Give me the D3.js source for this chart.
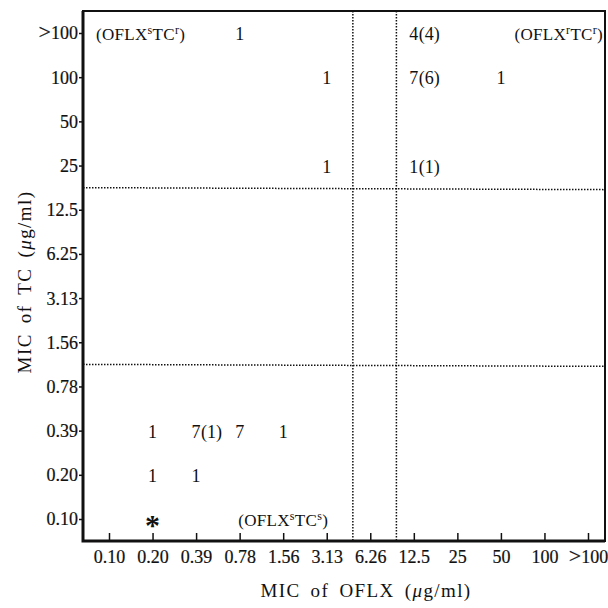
<!DOCTYPE html>
<html>
<head>
<meta charset="utf-8">
<script src="https://cdn.jsdelivr.net/npm/d3@7"></script>
<style>
  body { margin: 0; background: #fff; }
  svg text { font-family: "Liberation Serif", "DejaVu Serif", serif !important; }
</style>
</head>
<body>
<div id="chart"></div>
<script>
// categories (MIC steps)
const oflxSteps = ["0.10", "0.20", "0.39", "0.78", "1.56", "3.13", "6.26", "12.5", "25", "50", "100", ">100"];
const tcSteps = [">100", "100", "50", "25", "12.5", "6.25", "3.13", "1.56", "0.78", "0.39", "0.20", "0.10"];

// cell counts: OFLX MIC, TC MIC, number of strains, number in brackets
const cellOflx = ["0.78", "12.5", "3.13", "12.5", "50", "3.13", "12.5", "0.20", "0.39", "0.78", "1.56", "0.20", "0.39"];
const cellTc = [">100", ">100", "100", "100", "100", "25", "25", "0.39", "0.39", "0.39", "0.39", "0.20", "0.20"];
const cellCount = ["1", "4", "1", "7", "1", "1", "1", "1", "7", "7", "1", "1", "1"];
const cellParen = [null, "(4)", null, "(6)", null, null, "(1)", null, "(1)", null, null, null, null];

// breakpoints drawn as dotted lines: [lower step, upper step, fraction between]
const oflxBreaks = [["3.13", "6.26", 0.6], ["6.26", "12.5", 0.6]];
const tcBreaks = [["25", "12.5", 0.5], ["1.56", "0.78", 0.5]];

// quadrant labels
const quadLabels = [
  { base: "(OFLX", sup1: "s", mid: "TC", sup2: "r", tc: ">100", pos: "left" },
  { base: "(OFLX", sup1: "r", mid: "TC", sup2: "r", tc: ">100", pos: "right" },
  { base: "(OFLX", sup1: "s", mid: "TC", sup2: "s", tc: "0.10", oflx: "1.56", pos: "center" }
];

const W = 608, H = 608;
const frame = { left: 83, right: 605, top: 11, bottom: 541 };
const FONT = "'Liberation Serif', 'DejaVu Serif', serif";

const svg = d3.select("#chart").append("svg")
  .attr("width", W)
  .attr("height", H)
  .attr("font-family", FONT);

const x = d3.scalePoint()
  .domain(oflxSteps)
  .range([frame.left + 26, frame.right - 17]);

const y = d3.scalePoint()
  .domain(tcSteps)
  .range([frame.top + 22, frame.bottom - 22]);

// dotted breakpoint lines
const lerp = (a, b, t) => a + (b - a) * t;

svg.selectAll("line.vbreak")
  .data(oflxBreaks)
  .enter()
  .append("line")
  .attr("class", "vbreak")
  .attr("x1", d => lerp(x(d[0]), x(d[1]), d[2]))
  .attr("x2", d => lerp(x(d[0]), x(d[1]), d[2]))
  .attr("y1", frame.top)
  .attr("y2", frame.bottom)
  .style("stroke", "#111")
  .style("stroke-width", 1.5)
  .style("stroke-dasharray", "1.5,1.5");

svg.selectAll("line.hbreak")
  .data(tcBreaks)
  .enter()
  .append("line")
  .attr("class", "hbreak")
  .attr("x1", frame.left)
  .attr("x2", frame.right)
  .attr("y1", d => lerp(y(d[0]), y(d[1]), d[2]))
  .attr("y2", d => lerp(y(d[0]), y(d[1]), d[2]) + 2)
  .style("stroke", "#111")
  .style("stroke-width", 1.5)
  .style("stroke-dasharray", "1.5,1.5");

// axes
const xAxis = svg.append("g")
  .attr("transform", `translate(0,${frame.bottom})`)
  .call(d3.axisBottom(x).tickSizeInner(-8).tickSizeOuter(0).tickPadding(9));

const yAxis = svg.append("g")
  .attr("transform", `translate(${frame.left},0)`)
  .call(d3.axisLeft(y).tickSizeInner(4).tickSizeOuter(0).tickPadding(1));

[xAxis, yAxis].forEach(g => {
  g.attr("font-family", FONT).attr("font-size", 18);
  g.select(".domain").remove();
  g.selectAll(".tick line").style("stroke", "#111").style("stroke-width", 1.5);
  g.selectAll(".tick text").style("fill", "#111").style("stroke", "#111").style("stroke-width", 0.2);
});
yAxis.selectAll(".tick text").attr("dy", "0.33em");

// larger ">" sign as in the printed figure
[xAxis, yAxis].forEach(g => {
  g.selectAll(".tick text")
    .filter(d => d.startsWith(">"))
    .text(null)
    .call(t => {
      t.append("tspan").style("font-size", "22px").text(">");
      t.append("tspan").text("100");
    });
});

// frame
svg.append("rect")
  .attr("x", frame.left)
  .attr("y", frame.top)
  .attr("width", frame.right - frame.left)
  .attr("height", frame.bottom - frame.top)
  .style("fill", "none")
  .style("stroke", "#111")
  .style("stroke-width", 2);

svg.append("path")
  .attr("d", `M${frame.left},${frame.top}V${frame.bottom}H${frame.right}`)
  .style("fill", "none")
  .style("stroke", "#111")
  .style("stroke-width", 3);

// cell counts
const cells = cellCount.map((n, i) => ({
  oflx: cellOflx[i], tc: cellTc[i], n: n, paren: cellParen[i]
}));

const cellG = svg.selectAll("g.cell")
  .data(cells)
  .enter()
  .append("g")
  .attr("class", "cell")
  .attr("transform", d => `translate(${x(d.oflx)},${y(d.tc)})`);

cellG.append("text")
  .attr("text-anchor", "middle")
  .attr("dy", 7)
  .style("font-size", "18px")
  .style("fill", "#111")
  .text(d => d.n);

cellG.filter(d => d.paren)
  .append("text")
  .attr("x", 5)
  .attr("dy", 7)
  .style("font-size", "18px")
  .style("fill", "#111")
  .text(d => d.paren);

// asterisk at lowest cell
svg.append("text")
  .attr("x", x("0.20"))
  .attr("y", y("0.10"))
  .attr("dy", 16)
  .attr("text-anchor", "middle")
  .style("font-size", "30px")
  .style("font-weight", "bold")
  .style("fill", "#111")
  .text("*");

// quadrant labels
quadLabels.forEach(q => {
  const t = svg.append("text")
    .attr("y", y(q.tc))
    .attr("dy", 7)
    .style("font-size", "17px")
    .style("letter-spacing", "0.3px")
    .style("fill", "#111");
  if (q.pos === "left") t.attr("x", frame.left + 13).attr("text-anchor", "start");
  if (q.pos === "right") t.attr("x", frame.right - 2).attr("text-anchor", "end");
  if (q.pos === "center") t.attr("x", x(q.oflx)).attr("text-anchor", "middle");
  t.append("tspan").text(q.base);
  t.append("tspan").attr("dy", -6).style("font-size", "12px").text(q.sup1);
  t.append("tspan").attr("dy", 6).text(q.mid);
  t.append("tspan").attr("dy", -6).style("font-size", "12px").text(q.sup2);
  t.append("tspan").attr("dy", 6).text(")");
});

// axis titles
const titleStyle = sel => sel
  .style("font-size", "19px")
  .style("letter-spacing", "1.4px")
  .style("word-spacing", "4px")
  .style("fill", "#111");

const xTitle = svg.append("text")
  .attr("x", (frame.left + frame.right) / 2 + 22)
  .attr("y", 597)
  .attr("text-anchor", "middle")
  .call(titleStyle);
xTitle.append("tspan").text("MIC of OFLX (");
xTitle.append("tspan").style("font-style", "italic").text("μ");
xTitle.append("tspan").text("g/ml)");

const yTitle = svg.append("text")
  .attr("transform", `translate(31,${(frame.top + frame.bottom) / 2 + 6}) rotate(-90)`)
  .attr("text-anchor", "middle")
  .call(titleStyle);
yTitle.append("tspan").text("MIC of TC (");
yTitle.append("tspan").style("font-style", "italic").text("μ");
yTitle.append("tspan").text("g/ml)");
</script>
</body>
</html>
